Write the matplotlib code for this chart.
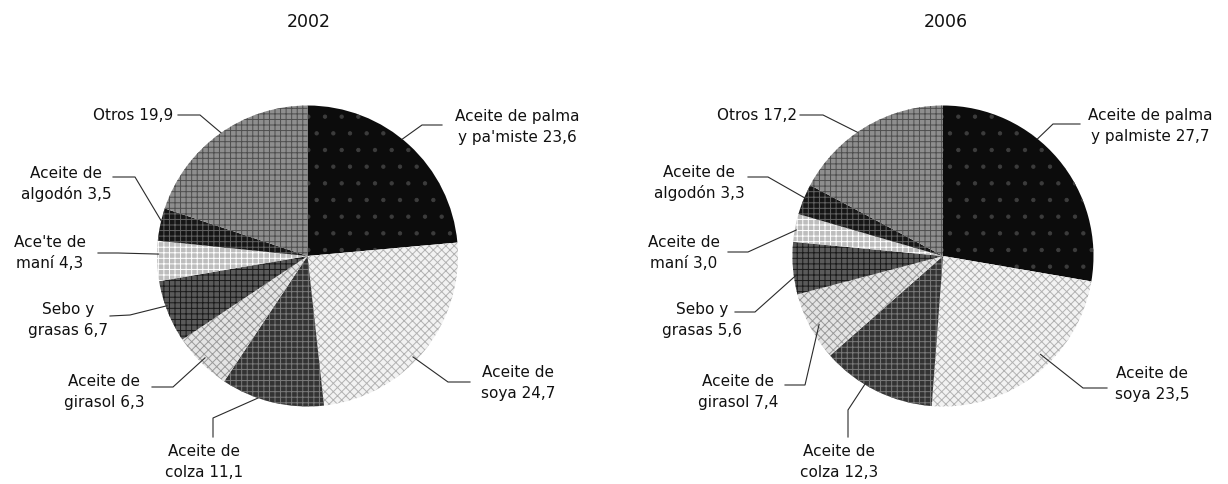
"""Composición de la producción mundial de aceites y grasas, 2002 vs 2006."""

import numpy as np
import matplotlib

matplotlib.use("Agg")
import matplotlib.pyplot as plt  # noqa: E402

# --------------------------------------------------------------------------- #
# Data (order = clockwise from 12 o'clock)
# --------------------------------------------------------------------------- #
YEARS = ["2002", "2006"]
LABELS_2002 = [
    "Aceite de palma\ny pa'miste 23,6",
    "Aceite de\nsoya 24,7",
    "Aceite de\ncolza 11,1",
    "Aceite de\ngirasol 6,3",
    "Sebo y\ngrasas 6,7",
    "Ace'te de\nmaní 4,3",
    "Aceite de\nalgodón 3,5",
    "Otros 19,9",
]
LABELS_2006 = [
    "Aceite de palma\ny palmiste 27,7",
    "Aceite de\nsoya 23,5",
    "Aceite de\ncolza 12,3",
    "Aceite de\ngirasol 7,4",
    "Sebo y\ngrasas 5,6",
    "Aceite de\nmaní 3,0",
    "Aceite de\nalgodón 3,3",
    "Otros 17,2",
]
SHARES_2002 = [23.6, 24.7, 11.1, 6.3, 6.7, 4.3, 3.5, 19.9]
SHARES_2006 = [27.7, 23.5, 12.3, 7.4, 5.6, 3.0, 3.3, 17.2]

# --------------------------------------------------------------------------- #
# Styling: greyscale fills + hatch textures (hatch colour = edgecolor)
# --------------------------------------------------------------------------- #
FACES = ["#0c0c0c", "#f2f2f2", "#333333", "#e4e4e4", "#5a5a5a", "#bdbdbd", "#161616", "#8e8e8e"]
HATCH_COLORS = ["#3c3c3c", "#b2b2b2", "#7a7a7a", "#9a9a9a", "#1a1a1a", "#ffffff", "#626262", "#4e4e4e"]
HATCHES = [".", "xxxx", "+++", "xxxx", "+++", "+++", "+++", "+++"]

W, H = 1228, 484
CENTERS = [(307.5, 256), (943, 256)]
RADIUS = 150.5
TITLE_POS = [(309, 22), (946, 22)]

# label text position (px, from top-left) and leader polyline start / elbow
TEXT_POS = [
    [(517, 127), (518, 383), (204, 462), (104, 392), (68, 320), (50, 253), (66, 184), (173, 115)],
    [(1150, 126), (1152, 384), (839, 462), (738, 392), (702, 320), (684, 253), (699, 183), (797, 115)],
]
LEADERS = [
    [((442, 125), (422, 125)), ((470, 382), (448, 382)), ((213, 437), (213, 418)),
     ((152, 387), (173, 387)), ((110, 316), (130, 315)), ((98, 253), (118, 253)),
     ((113, 177), (135, 177)), ((178, 115), (200, 115))],
    [((1080, 124), (1053, 124)), ((1107, 388), (1083, 388)), ((848, 437), (848, 410)),
     ((785, 385), (805, 385)), ((735, 312), (755, 312)), ((728, 252), (748, 252)),
     ((748, 177), (768, 177)), ((800, 115), (823, 115))],
]
# where the leader touches the wedge: (fraction along the wedge arc, fraction of radius)
ANCHORS = [
    [(0.54, 1.0), (0.45, 0.97), (0.36, 1.0), (0.49, 0.96), (0.41, 0.99), (0.33, 0.99), (0.39, 1.0), (0.49, 1.0)],
    [(0.61, 1.0), (0.58, 0.92), (0.39, 0.99), (0.53, 0.94), (0.63, 0.98), (0.57, 0.99), (0.45, 0.99), (0.56, 1.0)],
]

plt.rcParams["font.family"] = ["DejaVu Sans"]
plt.rcParams["hatch.linewidth"] = 0.7


def Y(y):
    return H - y


fig = plt.figure(figsize=(W / 100, H / 100), dpi=100)
ax = fig.add_axes([0, 0, 1, 1])

for k, (shares, labels) in enumerate([(SHARES_2002, LABELS_2002), (SHARES_2006, LABELS_2006)]):
    cx, cy = CENTERS[k]
    wedges, _ = ax.pie(shares, startangle=90, counterclock=False, normalize=True,
                       center=(cx, Y(cy)), radius=RADIUS,
                       wedgeprops=dict(linewidth=0))
    for i, w in enumerate(wedges):
        w.set_facecolor(FACES[i])
        w.set_edgecolor(HATCH_COLORS[i])
        w.set_hatch(HATCHES[i])
        w.set_linewidth(0)

        # leader: text side -> elbow -> point on the wedge
        fa, fr = ANCHORS[k][i]
        ang = np.deg2rad(w.theta1 + fa * (w.theta2 - w.theta1))
        px = cx + fr * RADIUS * np.cos(ang)
        py = Y(cy) + fr * RADIUS * np.sin(ang)
        (sx, sy), (ex, ey) = LEADERS[k][i]
        ax.plot([sx, ex, px], [Y(sy), Y(ey), py], color="#2a2a2a", lw=0.8,
                solid_joinstyle="miter", zorder=5)

        tx, ty = TEXT_POS[k][i]
        if "\n" in labels[i]:
            ax.text(tx, Y(ty), labels[i], ha="center", va="center", multialignment="center",
                    fontsize=11, linespacing=1.45, color="#111111")
        else:
            ax.text(tx, Y(ty), labels[i], ha="right", va="center",
                    fontsize=11, color="#111111")

    ax.text(TITLE_POS[k][0], Y(TITLE_POS[k][1]), YEARS[k], ha="center", va="center",
            fontsize=12.5, color="#111111")

ax.set_xlim(0, W)
ax.set_ylim(0, H)
ax.set_aspect("equal")
ax.axis("off")

fig.savefig("out.png", dpi=100)
plt.close(fig)
